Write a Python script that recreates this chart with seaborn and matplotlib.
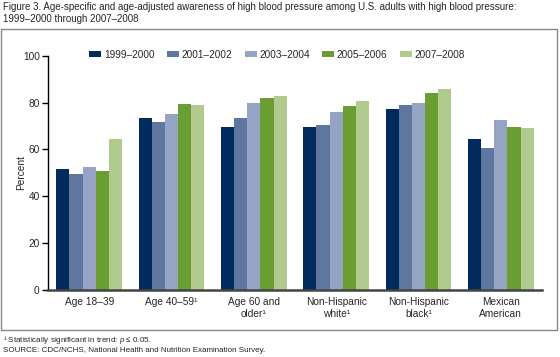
import pandas as pd
import numpy as np
import matplotlib
matplotlib.use('Agg')
import matplotlib.pyplot as plt
import seaborn as sns
from matplotlib.patches import Rectangle

# data
groups = ['Age 18–39', 'Age 40–59¹', 'Age 60 and\nolder¹', 'Non-Hispanic\nwhite¹',
          'Non-Hispanic\nblack¹', 'Mexican\nAmerican']
periods = ['1999–2000', '2001–2002', '2003–2004', '2005–2006', '2007–2008']
v1999 = [51.6, 73.5, 69.6, 69.6, 77.1, 64.4]
v2001 = [49.4, 71.7, 73.3, 70.4, 79.1, 60.6]
v2003 = [52.6, 75.1, 79.7, 75.8, 79.7, 72.7]
v2005 = [50.6, 79.2, 81.8, 78.5, 84.1, 69.7]
v2007 = [64.4, 79.0, 82.9, 80.8, 85.6, 69.0]
colors = ['#002B5C', '#5F769E', '#95A3C4', '#6A9E32', '#B0CB8D']

rows = []
for p, vals in zip(periods, [v1999, v2001, v2003, v2005, v2007]):
    for g, v in zip(groups, vals):
        rows.append([g, p, v])
df = pd.DataFrame(rows, columns=['group', 'period', 'value'])

sns.set_style('white')
plt.rcParams['font.family'] = ['Liberation Sans', 'DejaVu Sans']
plt.rcParams['mathtext.fontset'] = 'custom'
plt.rcParams['mathtext.rm'] = 'Liberation Sans'
plt.rcParams['mathtext.it'] = 'Liberation Sans:italic'

fig = plt.figure(figsize=(5.6, 3.57), dpi=100)
ax = fig.add_axes([48/560, 67/357, 494/560, 234.3/357])

sns.barplot(data=df, x='group', y='value', hue='period', palette=colors,
            width=0.8, saturation=1, gap=0, ax=ax, errorbar=None, legend=True,
            linewidth=0)

ax.set_ylim(0, 100)
ax.set_xlim(-0.5, 5.5)
ax.set_yticks([0, 20, 40, 60, 80, 100])
ax.tick_params(axis='y', direction='out', length=4, width=1, color='black',
               labelsize=7.3, pad=2, left=True)
ax.tick_params(axis='x', length=0, labelsize=7.3, pad=5)
for t in ax.get_xticklabels():
    t.set_linespacing(1.25)
ax.set_xlabel('')
ax.set_ylabel('Percent', fontsize=7.3)
ax.yaxis.set_label_coords(-0.045, 0.5)
for s in ['top', 'right']:
    ax.spines[s].set_visible(False)
ax.spines['left'].set_color('black')
ax.spines['left'].set_linewidth(1)
ax.spines['bottom'].set_color('#444444')
ax.spines['bottom'].set_linewidth(1.8)

h, l = ax.get_legend_handles_labels()
ax.get_legend().remove()
fig.legend(h, l, loc='center', bbox_to_anchor=(277/560, 1 - 55/357), ncol=5,
           frameon=False, fontsize=7.2, handlelength=1.2, handleheight=0.55,
           handletextpad=0.25, columnspacing=1.25)

fig.patches.append(Rectangle((1/560, 1 - 330/357), 556/560, 301/357,
                             transform=fig.transFigure, fill=False,
                             edgecolor='#888888', linewidth=1))

fig.text(3/560, 1 - 2/357, 'Figure 3. Age-specific and age-adjusted awareness of high blood pressure among U.S. adults with high blood pressure:\n1999–2000 through 2007–2008',
         fontsize=7.0, va='top', ha='left', linespacing=1.2)
fig.text(3/560, 1 - 340/357, '¹ Statistically significant in trend: $p$ ≤ 0.05.',
         fontsize=5.8, va='center', ha='left')
fig.text(3/560, 1 - 351/357, 'SOURCE: CDC/NCHS, National Health and Nutrition Examination Survey.',
         fontsize=5.8, va='center', ha='left')

fig.savefig('out.png', dpi=100)
